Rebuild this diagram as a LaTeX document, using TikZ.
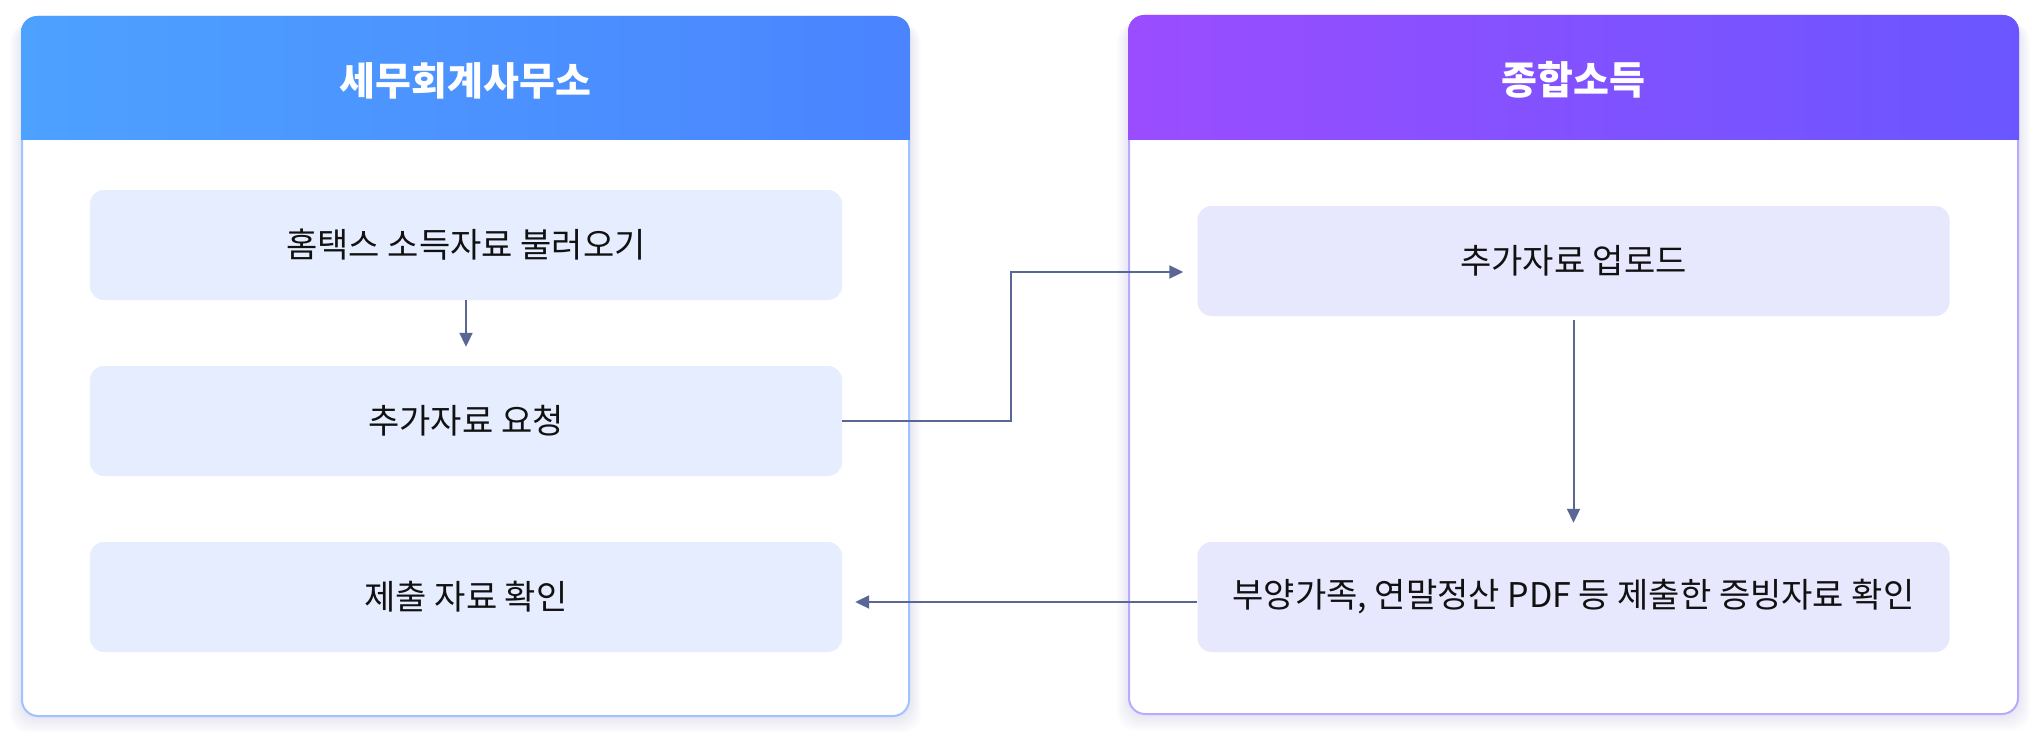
\documentclass[tikz,border=0pt]{standalone}
\usepackage{fontspec}
\setmainfont{Noto Sans CJK KR}
\usetikzlibrary{arrows.meta,calc}
\definecolor{lhL}{HTML}{4DA1FF}
\definecolor{lhR}{HTML}{4A84FF}
\definecolor{rhL}{HTML}{9A4DFF}
\definecolor{rhR}{HTML}{6A56FF}
\definecolor{lborder}{HTML}{A0C2FF}
\definecolor{rborder}{HTML}{B8AAFF}
\definecolor{lbox}{HTML}{E5EDFE}
\definecolor{rbox}{HTML}{E7E7FD}
\definecolor{arrowc}{HTML}{5A6794}
\definecolor{txt}{HTML}{111111}
\definecolor{shadowc}{HTML}{8FA8F0}
\begin{document}
\begin{tikzpicture}[x=1bp,y=-1bp,
 stepbox/.style={rounded corners=14bp, minimum width=752bp, minimum height=110bp, inner sep=0pt, text=txt, font=\fontsize{34bp}{40bp}\selectfont},
 lstep/.style={stepbox, fill=lbox},
 rstep/.style={stepbox, fill=rbox},
 arr/.style={draw=arrowc, line width=2bp, -{Triangle[length=14bp,width=13bp]}},
 title/.style={text=white, inner sep=0pt, font=\fontsize{39bp}{44bp}\selectfont\bfseries},
 panel/.style={fill=white, line width=2bp, rounded corners=16bp}
]
\useasboundingbox (0,0) rectangle (2040,744);
\fill[white] (0,0) rectangle (2040,744);
% shadows
\foreach \i in {1,...,12}{
  \fill[shadowc, opacity=0.014, rounded corners=18bp] (22-\i,24) rectangle (909+\i,716+\i*1.4);
  \fill[shadowc, opacity=0.014, rounded corners=18bp] (1129-\i,23) rectangle (2018+\i,714+\i*1.4);
}
% left panel
\path[panel, draw=lborder] (22,17) rectangle (909,716);
\begin{scope}
  \clip[rounded corners=16bp] (21,16) rectangle (910,717);
  \shade[left color=lhL, right color=lhR] (21,16) rectangle (910,139);
\end{scope}
\node[title] (tl) at (465.5,81) {세무회계사무소};
% right panel
\path[panel, draw=rborder] (1129,16) rectangle (2018,714);
\begin{scope}
  \clip[rounded corners=16bp] (1128,15) rectangle (2019,715);
  \shade[left color=rhL, right color=rhR] (1128,15) rectangle (2019,139);
\end{scope}
\node[title] (tr) at (1573.5,80) {종합소득};
% steps
\node[lstep] (b1) at (466,245) {홈택스 소득자료 불러오기};
\node[lstep] (b2) at (466,421) {추가자료 요청};
\node[lstep] (b3) at (466,597) {제출 자료 확인};
\node[rstep] (r1) at (1573.5,261) {추가자료 업로드};
\node[rstep] (r2) at (1573.5,597) {부양가족, 연말정산 PDF 등 제출한 증빙자료 확인};
% connectors
\coordinate (e1) at ($(b2.north)+(0,-19)$);
\draw[arr] (b1.south) -- (e1);
\coordinate (e2) at ($(r1.west)+(-14,11)$);
\draw[arr] (b2.east) -| (1011,272) -- (e2);
\coordinate (e3) at ($(r2.north)+(0,-19)$);
\draw[arr] ($(r1.south)+(0,4)$) -- (e3);
\coordinate (e4) at ($(b3.east)+(13,5)$);
\draw[arr] ($(r2.west)+(0,5)$) -- (e4);
\end{tikzpicture}
\end{document}
